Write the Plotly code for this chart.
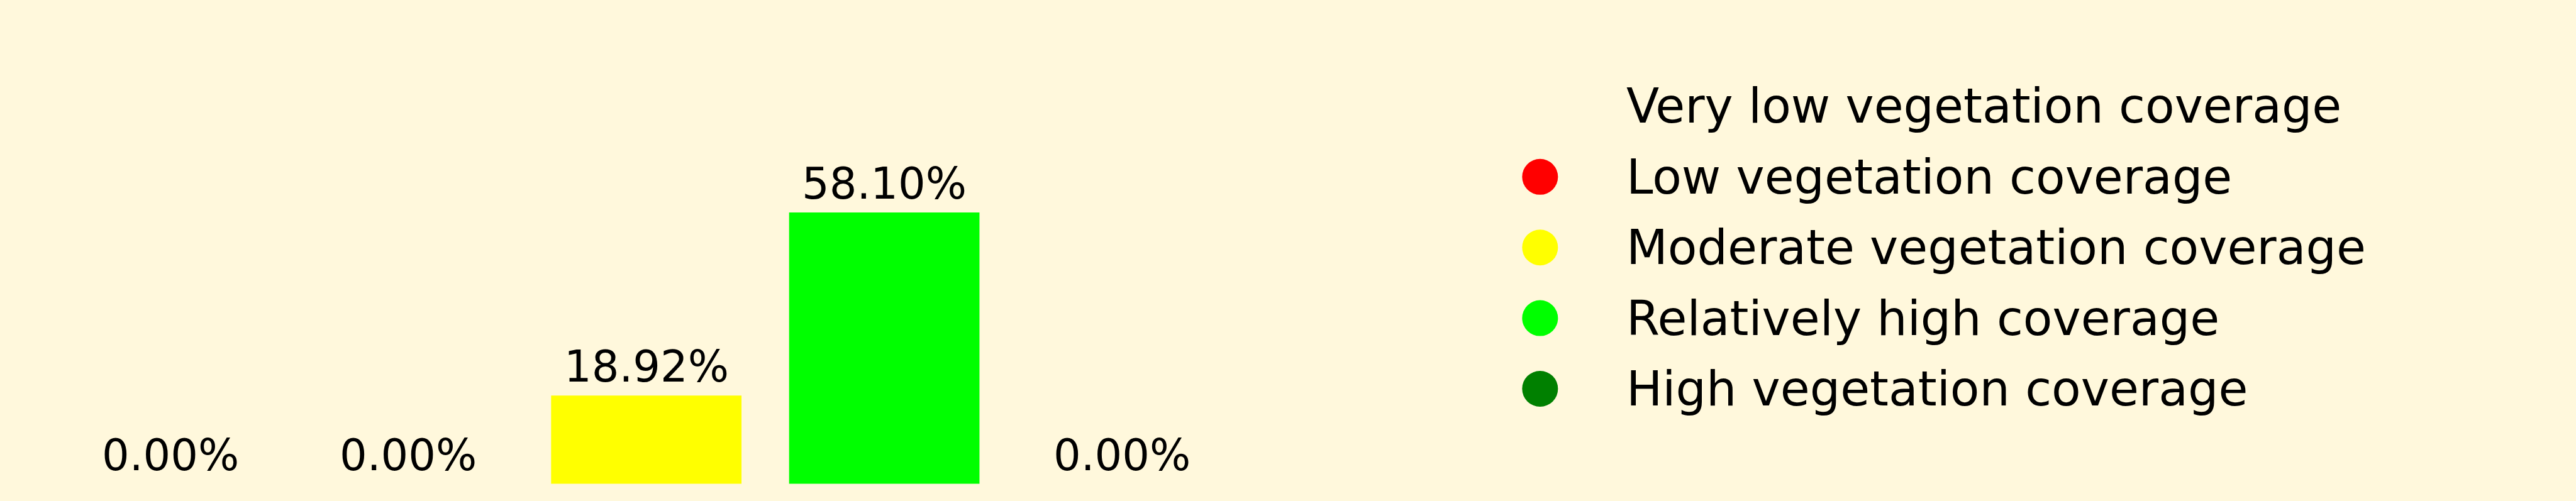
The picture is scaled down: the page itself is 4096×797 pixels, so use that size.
import plotly.graph_objects as go

# ---- data ----
categories = [
    "Very low vegetation coverage",
    "Low vegetation coverage",
    "Moderate vegetation coverage",
    "Relatively high coverage",
    "High vegetation coverage",
]
percentages = [0.00, 0.00, 18.92, 58.10, 0.00]
colors = ["#FFF8DC", "#FF0000", "#FFFF00", "#00FF00", "#008000"]
labels = [f"{v:.2f}%" for v in percentages]

BG = "#FFF8DC"
W, H = 4096, 797
FONT = "DejaVu Sans"

fig = go.Figure()

# bars
fig.add_trace(go.Bar(
    x=list(range(len(categories))), y=percentages,
    marker=dict(color=colors, line=dict(width=0)),
    width=0.8, xaxis="x", yaxis="y", showlegend=False, hoverinfo="skip",
))

# legend markers (drawn on a second pair of axes)
fig.add_trace(go.Scatter(
    x=[0] * len(categories), y=list(range(len(categories))),
    mode="markers",
    marker=dict(color=colors, size=57, line=dict(width=0)),
    xaxis="x2", yaxis="y2", showlegend=False, hoverinfo="skip",
))

annotations = []
for i, (v, t) in enumerate(zip(percentages, labels)):
    annotations.append(dict(
        x=i, y=v, xref="x", yref="y", text=t, showarrow=False,
        xanchor="center", yanchor="bottom", yshift=4,
        font=dict(family=FONT, size=68.7, color="black"),
    ))
for i, c in enumerate(categories):
    annotations.append(dict(
        x=1, y=i, xref="x2", yref="y2", text=c, showarrow=False,
        xanchor="left", yanchor="middle", xshift=-8,
        font=dict(family=FONT, size=76.3, color="black"),
    ))

fig.update_layout(
    width=W, height=H,
    margin=dict(l=0, r=0, t=0, b=0),
    paper_bgcolor=BG, plot_bgcolor=BG,
    showlegend=False,
    annotations=annotations,
    xaxis=dict(domain=[81.6 / W, 1973.7 / W], range=[-0.5, 4.5], visible=False, fixedrange=True),
    yaxis=dict(domain=[27.3 / H, 1], range=[0, 103.6], visible=False, fixedrange=True),
    xaxis2=dict(domain=[0.5, 1], range=[-2.795, 11.487], visible=False, anchor="y2", fixedrange=True),
    yaxis2=dict(domain=[0, 1], range=[5.588, -1.503], visible=False, anchor="x2", fixedrange=True),
)

fig.write_html(
    "out.html",
    config={"displayModeBar": False},
    post_script="document.body.style.margin='0px';document.body.style.overflow='hidden';document.body.style.background='#FFF8DC';",
)
